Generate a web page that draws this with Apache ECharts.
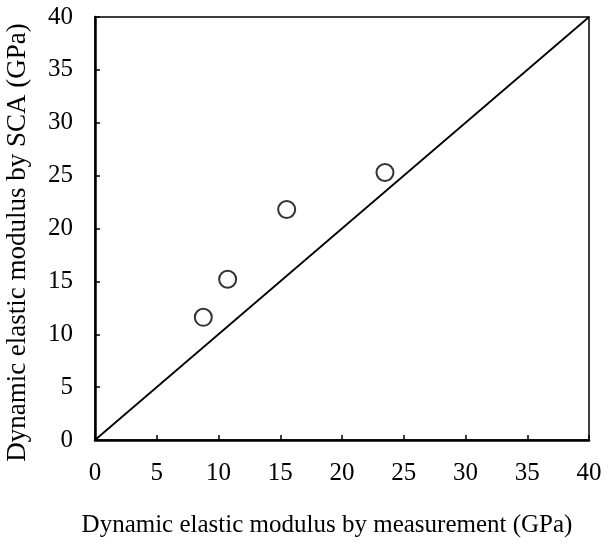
<!DOCTYPE html>
<html>
<head>
<meta charset="utf-8">
<script src="https://cdn.jsdelivr.net/npm/echarts@6/dist/echarts.min.js"></script>
<style>html,body{margin:0;padding:0;background:#fff;}#c{width:609px;height:547px;}</style>
</head>
<body>
<div id="c"></div>
<script>
const measured = [8.77, 10.74, 15.52, 23.48];
const sca = [11.6, 15.2, 21.8, 25.3];
const lineX = [0, 40];
const lineY = [0, 40];
const xTitle = 'Dynamic elastic modulus by measurement (GPa)';
const yTitle = 'Dynamic elastic modulus by SCA (GPa)';

const font = 'Liberation Serif';
const chart = echarts.init(document.getElementById('c'), null, {renderer: 'canvas'});
chart.setOption({
  animation: false,
  backgroundColor: '#fff',
  grid: {left: 95, top: 17, width: 494, height: 423, containLabel: false, outerBoundsMode: 'none',
    show: true, borderColor: '#000', borderWidth: 1.5, backgroundColor: 'transparent'},
  xAxis: {
    type: 'value', min: 0, max: 40, interval: 5,
    name: xTitle, nameLocation: 'middle', nameGap: 73,
    nameTextStyle: {fontFamily: font, fontSize: 25, color: '#000', padding: [0, 30, 0, 0]},
    axisLine: {show: true, onZero: false, lineStyle: {color: '#000', width: 2.5}},
    axisTick: {show: true, inside: true, length: 5, lineStyle: {color: '#000', width: 1.5}},
    axisLabel: {fontFamily: font, fontSize: 25, color: '#000', margin: 21},
    splitLine: {show: false}
  },
  yAxis: {
    type: 'value', min: 0, max: 40, interval: 5,
    name: yTitle, nameLocation: 'middle', nameGap: 64, nameRotate: 90,
    nameTextStyle: {fontFamily: font, fontSize: 27, color: '#000', padding: [0, 28, 0, 0]},
    axisLine: {show: true, onZero: false, lineStyle: {color: '#000', width: 2.5}},
    axisTick: {show: true, inside: true, length: 5, lineStyle: {color: '#000', width: 1.5}},
    axisLabel: {fontFamily: font, fontSize: 25, color: '#000', margin: 22},
    splitLine: {show: false}
  },
  series: [
    {
      type: 'line', data: lineX.map((x, i) => [x, lineY[i]]),
      symbol: 'none', lineStyle: {color: '#000', width: 1.8}, silent: true
    },
    {
      type: 'scatter', data: measured.map((x, i) => [x, sca[i]]),
      symbol: 'circle', symbolSize: 17,
      itemStyle: {color: '#fff', borderColor: '#000', borderWidth: 2}
    }
  ]
});
</script>
</body>
</html>
